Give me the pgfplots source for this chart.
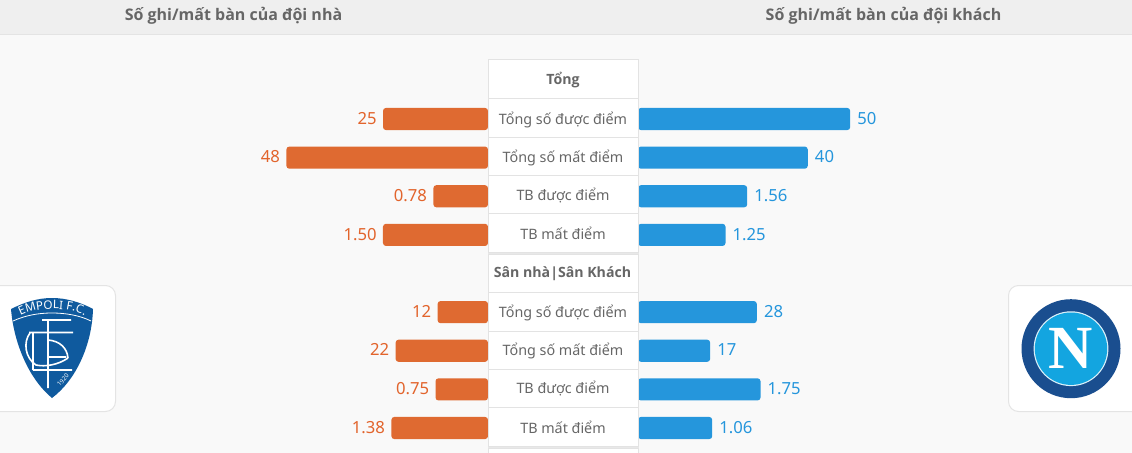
\documentclass[border=0pt]{standalone}
\usepackage{fontspec}
\usepackage{pgfplots}
\usepackage{pgfplotstable}
\pgfplotsset{compat=1.18}
\usetikzlibrary{decorations.text}
\setmainfont{Noto Sans}
\newfontfamily\hdfont{Open Sans}[BoldFont={Open Sans Bold}]
\newfontfamily\serifN{Liberation Serif}
\definecolor{oran}{HTML}{DF6A31}
\definecolor{oranT}{HTML}{E2642C}
\definecolor{blu}{HTML}{2596DC}
\definecolor{txt}{HTML}{666666}
\definecolor{band}{HTML}{EFEFEF}
\definecolor{bandl}{HTML}{E4E4E4}
\definecolor{page}{HTML}{F9F9F9}
\definecolor{cell}{HTML}{E3E3E3}
\definecolor{emp}{HTML}{0F5A9E}
\definecolor{nap}{HTML}{1A4E8F}
\definecolor{napl}{HTML}{13A5E0}

\pgfplotstableread{
row value
0 25
1 48
5 12
6 22
}\homecount
\pgfplotstableread{
row value
2 0.78
3 1.50
7 0.75
8 1.38
}\homeavg
\pgfplotstableread{
row value
0 50
1 40
5 28
6 17
}\awaycount
\pgfplotstableread{
row value
2 1.56
3 1.25
7 1.75
8 1.06
}\awayavg

\pgfplotsset{
  rowaxis/.style={
    hide axis, clip=false, scale only axis,
    height=339.75pt, y dir=reverse,
    ymin=-3.081, ymax=8.647,
    /pgf/number format/assume math mode=true,
  },
  homeaxis/.style={rowaxis, width=366pt, x dir=reverse, anchor=north east, at={(366pt,0pt)}},
  awayaxis/.style={rowaxis, width=370.5pt, anchor=north west, at={(478.5pt,0pt)}},
  countval/.style={nodes near coords={\pgfmathprintnumber[fixed,precision=0]{\pgfplotspointmeta}}},
  avgval/.style={nodes near coords={\pgfmathprintnumber[fixed,fixed zerofill,precision=2]{\pgfplotspointmeta}}},
  barstyle/.style={xbar, bar width=16.6pt, draw=none, rounded corners=2.2pt, point meta=rawx,
    every node near coord/.append style={font=\fontsize{12.5}{14}\selectfont, inner sep=0pt, yshift=0.6pt}},
  homebar/.style={barstyle, fill=oran,
    every node near coord/.append style={text=oranT, anchor=east, xshift=-4.6pt}},
  awaybar/.style={barstyle, fill=blu,
    every node near coord/.append style={text=blu, anchor=west, xshift=5.2pt}},
}

\begin{document}
\begin{tikzpicture}[x=0.75pt,y=-0.75pt]
\path[use as bounding box] (0,0) rectangle (1132,453);
\clip (0,0) rectangle (1132,453);
\fill[page] (0,0) rectangle (1132,453);
\fill[band] (0,0) rectangle (1132,34.5);
\draw[bandl,line width=0.75pt] (0,34.6) -- (1132,34.6);
\node[text=txt,font=\fontsize{12}{14}\selectfont\hdfont\bfseries,anchor=center] at (233.5,16) {Số ghi/mất bàn của đội nhà};
\node[text=txt,font=\fontsize{12}{14}\selectfont\hdfont\bfseries,anchor=center] at (883.5,16) {Số ghi/mất bàn của đội khách};

\begin{axis}[homeaxis, xmin=5, xmax=121.19]
\addplot[homebar, countval, x filter/.expression={x+5}] table[x=value,y=row] {\homecount};
\end{axis}
\begin{axis}[homeaxis, xmin=0.3, xmax=7.271]
\addplot[homebar, avgval, x filter/.expression={x+0.3}] table[x=value,y=row] {\homeavg};
\end{axis}
\begin{axis}[awayaxis, xmin=5, xmax=121.4]
\addplot[awaybar, countval, x filter/.expression={x+5}] table[x=value,y=row] {\awaycount};
\end{axis}
\begin{axis}[awayaxis, xmin=0.3, xmax=7.357]
\addplot[awaybar, avgval, x filter/.expression={x+0.3}] table[x=value,y=row] {\awayavg};
\end{axis}

% centre panel
\foreach \a/\b in {60/252.5,254.5/446.5,448.5/470}{
  \fill[white] (488,\a) rectangle (638.5,\b);
  \draw[cell,line width=0.75pt] (488,\a) rectangle (638.5,\b);
}
\fill[black!9] (488,252.9) rectangle (638.5,254.1);
\fill[black!9] (488,446.9) rectangle (638.5,448.1);
\foreach \y in {99,137.5,175.5,213.5,292.5,331,369,407.5}{
  \draw[cell,line width=0.75pt] (488,\y) -- (638.5,\y);
}
\tikzset{cl/.style={text=txt,font=\fontsize{10.75}{12}\selectfont,anchor=center},
         hd/.style={text=txt,font=\fontsize{10.6}{12}\selectfont\hdfont\bfseries,anchor=center}}
\node[hd] at (563,80) {Tổng};
\node[cl] at (563,119.5) {Tổng số được điểm};
\node[cl] at (563,157.5) {Tổng số mất điểm};
\node[cl] at (563,195.5) {TB được điểm};
\node[cl] at (563,233.5) {TB mất điểm};
\node[hd] at (562.5,273.5) {Sân nhà|Sân Khách};
\node[cl] at (563,312.5) {Tổng số được điểm};
\node[cl] at (563,351) {Tổng số mất điểm};
\node[cl] at (563,389) {TB được điểm};
\node[cl] at (563,427.5) {TB mất điểm};

% Empoli logo
\fill[white,draw=bandl,line width=0.75pt,rounded corners=7.5pt] (-30,285.5) rectangle (115.5,411.5);
\fill[emp] (11,309) .. controls (25,302) and (38,298) .. (52,298) .. controls (66,298) and (80,302) .. (93,309)
  .. controls (92,345) and (76,380) .. (52,398) .. controls (30,380) and (14,345) .. (11,309) -- cycle;
\draw[white,line width=0.6pt] (13,321) .. controls (25,315.5) and (38,313) .. (52,313) .. controls (66,313) and (80,315.5) .. (91,321);
\path[decorate,decoration={text along path,text align=center,
  text={|\fontsize{8.8}{9}\selectfont\color{white}|EMPOLI F.C.}}]
  (15,319) .. controls (27,311) and (40,309) .. (52,309) .. controls (66,309) and (79,311) .. (90,319);
\draw[white,line width=1.2pt]
  (42,320) -- (71,320)
  (29,332.5) -- (73,332.5)
  (33,370) -- (72,370)
  (48,320) -- (48,388)
  (33,332.5) -- (33,370)
  (30,333) .. controls (23,342) and (25,358) .. (36,365) .. controls (45,367) and (58,365) .. (68,358)
  (48,340) .. controls (60,341) and (67,348) .. (68,358)
  (48,357) -- (66,357);
\node[white,rotate=48,font=\fontsize{4.6}{5}\selectfont,inner sep=0pt] at (63,380) {1920};

% Napoli logo
\fill[white,draw=bandl,line width=0.75pt,rounded corners=7.5pt] (1008.5,285.5) rectangle (1170,411.5);
\fill[nap] (1071,348.7) circle[radius=49.5];
\fill[white!85!napl] (1071,348.7) circle[radius=37.4];
\fill[napl] (1071,348.7) circle[radius=36.2];
\node[white,font=\fontsize{46}{46}\selectfont\serifN\bfseries,anchor=center,inner sep=0pt] at (1071,348.3) {N};
\end{tikzpicture}
\end{document}
